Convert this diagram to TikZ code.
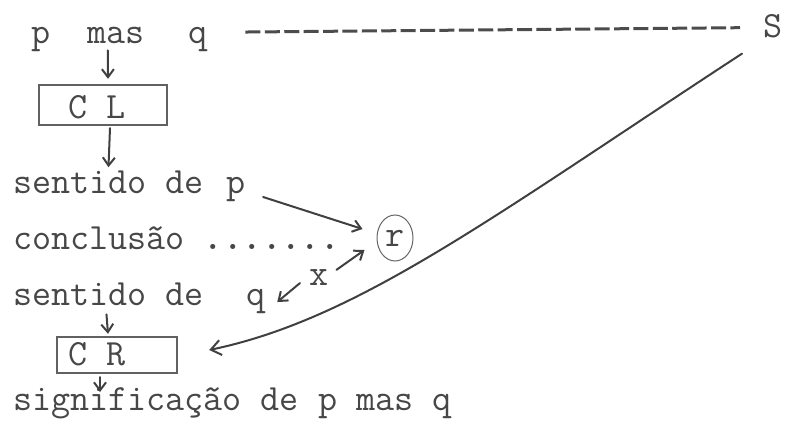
\documentclass[tikz,border=0pt]{standalone}
\usetikzlibrary{arrows.meta,calc,shapes.geometric}
\newcommand\twfont{\fontsize{37}{44}\selectfont\ttfamily}
\begin{document}
\begin{tikzpicture}[x=1pt,y=-1pt,
  txt/.style={inner sep=0pt, anchor=base west, text=black!72, font=\twfont},
  arr/.style={draw=black!75, line width=2pt, line cap=round,
    -{Straight Barb[length=8pt,width=12pt,line width=2pt]}},
  boxs/.style={draw=black!62, line width=2.4pt, inner sep=0pt, rectangle},
  ring/.style={draw=black!60, line width=1pt, ellipse, inner sep=0pt,
    text=black!72, font=\twfont},
  typed/.style={draw=black!70, line width=3pt, dash pattern=on 15pt off 4.4pt}
]
\useasboundingbox (0,0) rectangle (788,434);

% row 1
\node[txt] (p1) at (31,43) {p};
\node[txt] (mas) at (87,43) {mas};
\node[txt] (q1) at (188,43) {q};
\node[txt] (S) at (763,37) {S};

% box C L
\node[boxs, minimum width=128pt, minimum height=40pt] (clbox) at (103,105) {};
\node[txt] (cl) at (68,118) {C L};

% row 2
\node[txt] (sent2) at (13,193) {sentido de};
\node[txt] (p2) at (226.7,193) {p};

% row 3
\node[txt] (concl) at (13,249) {conclusão \textbf{.......}};
\node[ring, minimum width=36pt, minimum height=46pt] (r) at (395,238) {r};

% x label
\node[txt] (x) at (309,285) {x};

% row 4
\node[txt] (sent4) at (13,305) {sentido de};
\node[txt] (q4) at (245.8,305) {q};

% box C R
\node[boxs, minimum width=120pt, minimum height=36pt] (crbox) at (117,355) {};
\node[txt] (cr) at (68,365) {C R};

% row 5
\node[txt] (sig) at (13,410) {significação de p mas q};

% connectors
\draw[typed] ($(q1.east)+(38,-7)$) -- ($(S.west)+(-23,2)$);
\draw[arr] ($(mas.south)+(-8,7)$) -- ($(clbox.north)+(5,-5)$);
\draw[arr] ($(clbox.south)+(7,2)$) -- ($(sent2.north)+(0,-3)$);
\draw[arr] ($(p2.east)+(17,8)$) -- ($(r.west)+(-14,-9)$);
\draw[arr] ($(x.north east)+(8,1)$) -- ($(r.west)+(-12,12)$);
\draw[arr] ($(x.west)+(-9,6)$) -- ($(q4.east)+(12,1)$);
\draw[arr] ($(sent4.south)+(-2,9)$) -- ($(crbox.north)+(-9,-2)$);
\draw[arr] ($(crbox.south)+(-17,3)$) -- ($(sig.base west)+(87,-18)$);
\draw[arr, -{Straight Barb[length=10pt,width=15pt,line width=2pt]}]
  ($(S.south west)+(-21,16)$) .. controls (492,217) and (358,319) .. ($(crbox.east)+(31,-5)$);
\end{tikzpicture}
\end{document}
